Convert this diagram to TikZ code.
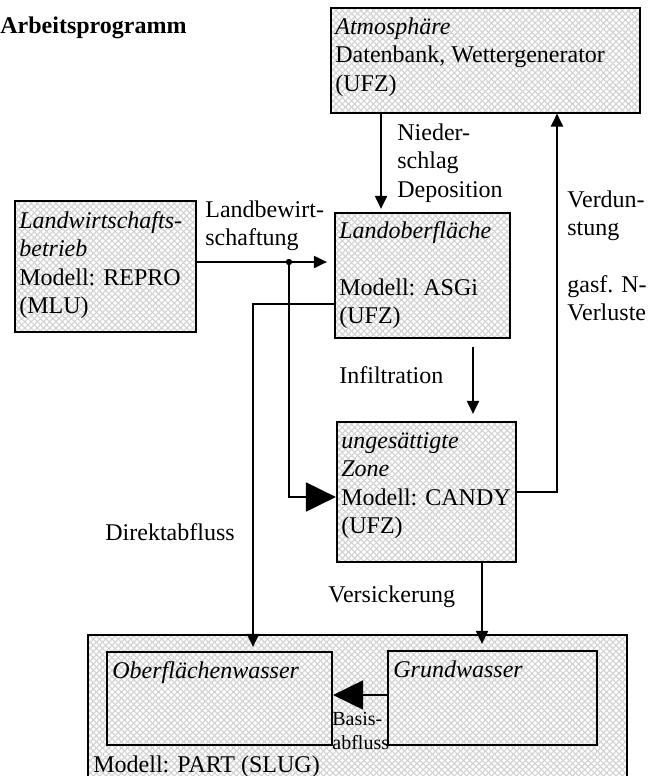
\documentclass[tikz,border=0pt]{standalone}
\usepackage{fontspec}
\setmainfont{Liberation Serif}
\usetikzlibrary{arrows.meta,patterns.meta,fit}
\tikzset{
  hatch/.style={preaction={fill=white},
    preaction={pattern={Lines[angle=45,distance=2.2pt,line width=0.55pt]},pattern color=gray!35},
    pattern={Lines[angle=-45,distance=2.2pt,line width=0.55pt]},pattern color=gray!35},
  box/.style={draw,line width=1.1pt,hatch,inner sep=0pt},
  inbox/.style={draw,line width=1.1pt,inner sep=0pt},
  txt/.style={inner sep=0pt,align=left,font=\fontsize{12}{14.2}\selectfont},
  smalltxt/.style={inner sep=0pt,align=left,font=\fontsize{10}{12}\selectfont},
  arr/.style={line width=1pt,-{Triangle[width=6pt,length=6.5pt]}},
  bigarr/.style={line width=1pt,-{Triangle[width=14.5pt,length=15pt]}},
  ln/.style={line width=1pt}
}
\begin{document}
\begin{tikzpicture}[x=0.5pt,y=-0.5pt]
\useasboundingbox (0,0) rectangle (660,776);
\clip (0,0) rectangle (660,776);
% boxes
\node[box, fit={(331,8) (640,113)}] (atm) {};
\node[box, fit={(15,201) (196,332)}] (lw) {};
\node[box, fit={(335,213) (510,338)}] (lo) {};
\node[box, fit={(337,422) (516,562)}] (uz) {};
\node[box, fit={(88,635) (627,800)}] (part) {};
\node[inbox, fit={(107,652) (332,745)}] (ow) {};
\node[inbox, fit={(388,651) (597,745)}] (gw) {};
% texts in boxes
\node[txt, anchor=base west, font=\fontsize{12}{14.2}\selectfont\bfseries] (title) at (0,33) {Arbeitsprogramm};
\node[txt, anchor=north west] (atmt) at (335,14.1) {\strut\textit{Atmosphäre}\\Datenbank, Wettergenerator\\(UFZ)};
\node[txt, anchor=north west] (lwt) at (19,208.1) {\strut\textit{Landwirtschafts-}\\\textit{betrieb}\\Modell: REPRO\\(MLU)};
\node[txt, anchor=north west] (lot) at (339,218.1) {\strut\textit{Landoberfläche}\\[14.2pt]Modell: ASGi\\(UFZ)};
\node[txt, anchor=north west] (uzt) at (341,428.1) {\strut\textit{ungesättigte}\\\textit{Zone}\\Modell: CANDY\\(UFZ)};
\node[txt, anchor=base west] (owt) at (112,678) {\textit{Oberflächenwasser}};
\node[txt, anchor=base west] (gwt) at (393,677) {\textit{Grundwasser}};
\node[txt, anchor=base west] (partt) at (93,772) {Modell: PART (SLUG)};
% connector labels
\node[txt, anchor=north west] (lnied) at (397,120.1) {\strut Nieder-\\schlag\\Deposition};
\node[txt, anchor=north west] (lverd) at (567,187.1) {\strut Verdun-\\stung\\[14.2pt]gasf. N-\\Verluste};
\node[txt, anchor=north west] (lland) at (205,197.1) {\strut Landbewirt-\\schaftung};
\node[txt, anchor=base west] (linf) at (339,383) {Infiltration};
\node[txt, anchor=base west] (ldir) at (105,540) {Direktabfluss};
\node[txt, anchor=base west] (lvers) at (328,602) {Versickerung};
\node[smalltxt, anchor=north west] (lbas) at (332,708.2) {\strut Basis-\\abfluss};
% helper coordinates
\coordinate (xn) at (381,0);
\coordinate (xv) at (557,0);
\coordinate (inf) at (473,347);
\coordinate (jn) at (289,262);
\coordinate (c2) at (289,497);
\coordinate (d1) at (253,304);
\coordinate (xs) at (482,0);
\coordinate (yb) at (0,695);
% connectors
\draw[arr, shorten >=1.5pt] (atm.south -| xn) -- (lo.north -| xn);
\draw[arr] (uz.east) -- (uz.east -| xv) -- (atm.south -| xv);
\draw[arr, shorten >=3.5pt] (inf) -- (uz.north -| inf);
\draw[arr, shorten >=3.5pt] (lw.east |- jn) -- (lo.west |- jn);
\fill (jn) circle (1.6pt);
\draw[bigarr] (jn) -- (c2) -- (uz.west |- c2);
\draw[arr, shorten >=2pt] (lo.west |- d1) -- (d1) -- (ow.north -| d1);
\draw[arr, shorten >=3pt] (uz.south -| xs) -- (gw.north -| xs);
\draw[bigarr] (gw.west |- yb) -- (ow.east |- yb);
\end{tikzpicture}
\end{document}
